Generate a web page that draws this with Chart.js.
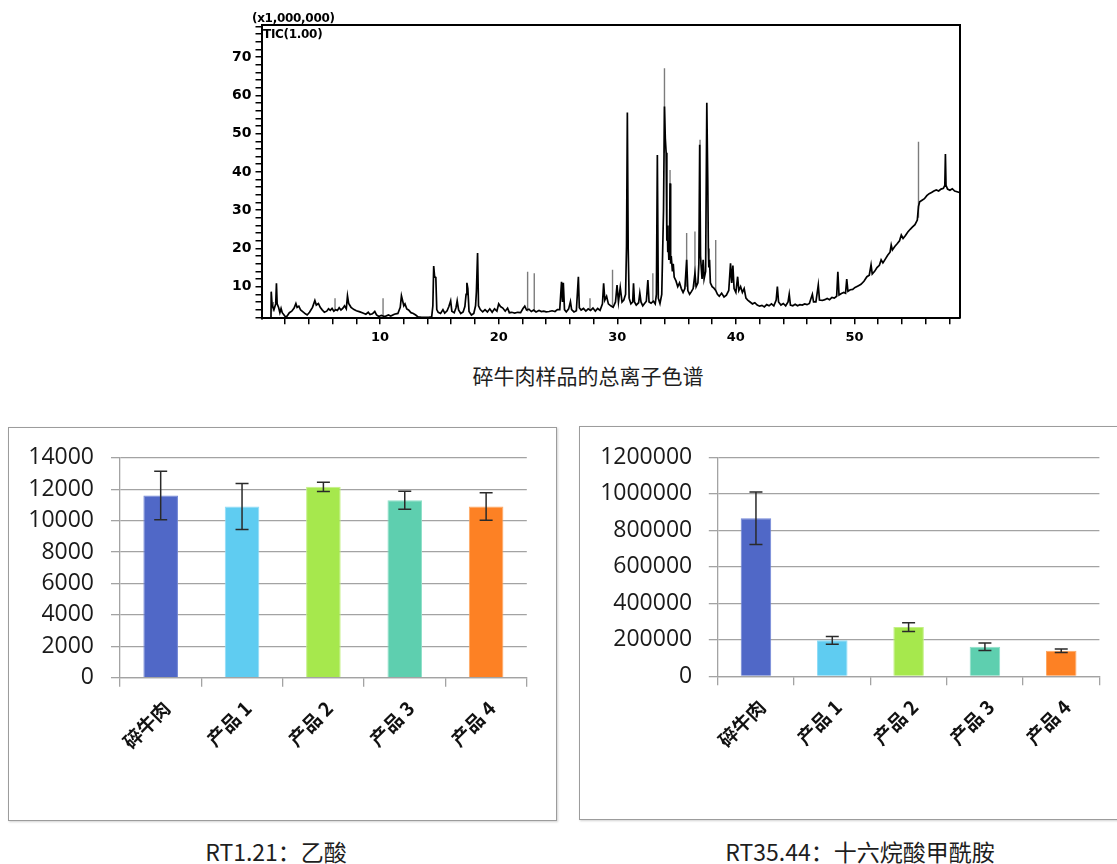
<!DOCTYPE html>
<html>
<head>
<meta charset="utf-8">
<script src="https://cdn.jsdelivr.net/npm/chart.js@4.4.0/dist/chart.umd.min.js"></script>
<style>
  html, body { margin:0; padding:0; background:#fff; }
  body { width:1117px; height:864px; overflow:hidden; position:relative; font-family:'Noto Sans CJK SC', sans-serif; }
  canvas { position:absolute; }
  .frame { position:absolute; border:1px solid #9c9c9c; box-shadow:1px 1px 2px rgba(0,0,0,0.18); background:transparent; box-sizing:border-box; }
  .caption { position:absolute; text-align:center; color:#1e1e1e; white-space:nowrap; }
  .ticlab { position:absolute; font-family:'DejaVu Sans', sans-serif; font-weight:bold; font-size:12px; line-height:14px; color:#000; white-space:nowrap; letter-spacing:-0.3px; }
</style>
</head>
<body>

<div class="frame" style="left:8px; top:427px; width:549px; height:394px;"></div>
<div class="frame" style="left:579px; top:426px; width:545px; height:394px;"></div>

<canvas id="tic" width="790" height="360" style="left:200px; top:0px;"></canvas>
<canvas id="acid" width="548" height="393" style="left:8px; top:427px;"></canvas>
<canvas id="amide" width="537" height="392" style="left:580px; top:427px;"></canvas>

<div class="ticlab" style="left:252px; top:11px;">(x1,000,000)</div>
<div class="ticlab" style="left:263px; top:27px;">TIC(1.00)</div>

<div class="caption" style="left:388px; top:360px; width:400px; font-size:21px; line-height:30px;">碎牛肉样品的总离子色谱</div>
<div class="caption" style="left:76px; top:836px; width:400px; font-size:23px; line-height:30px;">RT1.21：乙酸</div>
<div class="caption" style="left:660px; top:836px; width:400px; font-size:23px; line-height:30px;">RT35.44：十六烷酸甲酰胺</div>

<script>
// ---------------- DATA ----------------
// Total ion chromatogram: [retention time (min), intensity (x1,000,000)]
const ticSeg1 = [[0.80,2.0],[0.82,8.7],[0.90,5.0],[1.05,4.0],[1.20,5.5],[1.26,10.9],[1.32,5.5],[1.45,4.5],[1.55,3.2],[1.65,4.3],[1.75,3.2],[1.90,2.6],[2.05,2.0],[2.15,2.3],[2.35,3.2],[2.55,3.6],[2.75,4.4],[2.90,5.6],[3.00,4.6],[3.15,4.9],[3.30,3.9],[3.50,3.4],[3.70,2.9],[3.85,2.6],[4.05,3.3],[4.30,4.6],[4.50,6.4],[4.62,5.2],[4.80,5.6],[4.95,4.6],[5.10,4.0],[5.30,3.3],[5.50,3.6],[5.65,4.2],[5.80,3.8],[5.95,4.3],[6.10,3.6],[6.25,4.0],[6.40,3.8],[6.55,4.5],[6.70,3.9],[6.85,4.3],[7.00,5.0],[7.15,4.2],[7.25,7.6],[7.35,5.6],[7.55,4.6],[7.80,4.0],[8.00,3.7],[8.30,3.4],[8.55,3.1],[8.80,2.8],[9.00,3.3],[9.15,2.7],[9.35,2.9],[9.55,3.5],[9.70,2.6],[9.90,2.2],[10.10,2.5],[10.40,2.2],[10.70,2.6],[10.90,2.3],[11.20,2.8],[11.50,3.0],[11.70,4.6],[11.80,7.6],[11.90,6.3],[12.00,5.0],[12.10,5.5],[12.25,4.2],[12.40,3.9],[12.60,3.2],[12.80,3.0],[13.00,2.6],[13.20,2.1],[13.50,2.0],[13.80,2.0],[14.10,2.0],[14.35,2.1],[14.45,5.0],[14.52,15.4],[14.60,12.6],[14.70,12.4],[14.78,4.0],[14.90,3.3]];
const ticSeg2 = [[15.10,3.0],[15.30,4.0],[15.45,3.1],[15.65,3.7],[15.80,4.8],[15.95,6.3],[16.05,3.6],[16.25,3.2],[16.40,4.5],[16.50,6.3],[16.62,3.9],[16.80,3.0],[17.00,3.4],[17.15,4.8],[17.25,8.0],[17.32,11.0],[17.40,9.5],[17.50,3.5],[17.70,2.6],[17.90,3.0],[18.05,5.0],[18.12,8.6],[18.22,18.8],[18.30,5.0],[18.45,4.0],[18.65,3.4],[18.85,4.0],[19.05,3.4],[19.25,4.2],[19.45,3.3],[19.65,4.2],[19.85,3.6],[20.00,5.5],[20.15,4.8],[20.35,4.4],[20.55,3.6],[20.75,4.4],[20.90,3.2],[21.10,3.3],[21.35,3.1],[21.60,3.3],[21.85,3.2],[22.05,4.3],[22.20,4.9],[22.35,3.9],[22.55,4.1],[22.75,3.5],[22.95,3.9],[23.15,3.4],[23.40,3.8],[23.60,3.5],[23.80,3.6],[24.00,3.4],[24.25,3.5],[24.50,3.7],[24.75,3.5],[24.95,4.0],[25.15,4.0],[25.30,11.3],[25.38,6.0],[25.45,11.0],[25.55,4.0],[25.70,3.4],[25.90,4.2],[26.05,6.1],[26.15,4.0],[26.35,3.4],[26.55,3.7],[26.72,12.6],[26.80,4.5],[26.95,3.9],[27.15,4.3],[27.35,3.6],[27.55,4.2],[27.75,3.8],[27.95,4.4],[28.15,3.6],[28.35,4.3],[28.55,3.8],[28.75,5.5],[28.85,10.9],[28.95,6.5],[29.10,7.5],[29.25,5.5],[29.45,5.0],[29.65,4.6],[29.85,6.0]];
const ticSeg3 = [[29.98,10.4],[30.10,6.0],[30.25,9.8],[30.40,6.0],[30.55,6.5],[30.70,8.0],[30.78,20.5],[30.85,55.5],[30.92,20.0],[31.00,7.0],[31.15,5.5],[31.30,6.0],[31.37,10.9],[31.45,6.0],[31.60,5.2],[31.80,5.8],[31.90,8.3],[32.00,6.0],[32.15,5.0],[32.30,5.6],[32.45,6.2],[32.58,11.7],[32.68,6.0],[32.85,5.7],[33.05,6.2],[33.20,5.5],[33.30,8.0],[33.38,44.4],[33.46,7.0],[33.60,5.6],[33.75,8.0],[33.90,30.0],[33.98,57.1],[34.05,48.8],[34.12,45.0],[34.18,22.0],[34.22,26.0],[34.26,19.0],[34.30,21.5],[34.35,17.0],[34.40,20.0],[34.45,37.0],[34.50,16.0],[34.55,18.0],[34.65,14.0],[34.72,16.0],[34.80,12.5],[34.95,11.5],[35.10,10.0],[35.25,11.0],[35.40,9.5],[35.55,8.5],[35.70,9.5],[35.85,17.0],[35.95,9.0],[36.10,8.0],[36.25,8.7],[36.40,9.5],[36.55,13.5],[36.65,10.0],[36.80,11.0],[36.88,16.0],[36.95,47.1],[37.02,18.0],[37.08,15.0],[37.15,12.0],[37.24,17.0],[37.32,12.0],[37.45,14.0],[37.55,58.1],[37.63,37.9],[37.68,20.0],[37.72,15.0],[37.78,17.0],[37.85,11.0],[38.00,10.0],[38.15,9.6],[38.30,9.0],[38.45,8.0],[38.60,7.5],[38.80,8.3],[39.00,7.3],[39.20,7.8],[39.40,9.0],[39.55,16.1],[39.65,11.0],[39.75,15.5],[39.85,9.5]];
const ticSeg4 = [[40.00,8.5],[40.15,12.6],[40.25,9.0],[40.40,10.0],[40.55,8.5],[40.70,9.5],[40.85,7.0],[41.00,6.5],[41.20,6.0],[41.40,5.5],[41.60,5.8],[41.80,5.2],[42.00,4.9],[42.20,5.1],[42.40,4.7],[42.60,5.3],[42.80,5.0],[43.00,5.5],[43.20,5.0],[43.40,6.5],[43.50,10.0],[43.60,6.0],[43.80,5.2],[44.00,5.6],[44.20,5.0],[44.40,6.0],[44.50,8.0],[44.60,5.2],[44.80,5.0],[45.00,5.4],[45.20,5.0],[45.40,5.3],[45.60,5.2],[45.80,5.5],[46.00,5.3],[46.20,5.6],[46.45,8.0],[46.55,6.0],[46.75,6.0],[46.95,10.4],[47.05,6.5],[47.30,6.4],[47.50,6.6],[47.70,6.9],[47.90,6.6],[48.10,7.2],[48.30,7.0],[48.50,7.5],[48.60,13.9],[48.70,7.8],[48.90,8.2],[49.10,8.5],[49.25,8.3],[49.35,12.0],[49.45,8.8],[49.65,9.2],[49.85,9.3],[50.05,9.8],[50.30,10.2],[50.55,10.6],[50.80,11.4],[51.05,12.6],[51.25,13.0],[51.40,15.7],[51.50,13.3],[51.70,14.0],[51.90,15.0],[52.10,15.6],[52.25,17.0],[52.40,16.2],[52.60,17.2],[52.80,18.2],[53.00,19.0],[53.10,20.9],[53.20,19.6],[53.40,20.5],[53.60,21.2],[53.80,22.0],[53.95,23.5],[54.10,22.6],[54.30,23.4],[54.50,24.3],[54.70,25.0],[54.90,25.6],[55.10,26.2],[55.30,27.4],[55.40,31.0],[55.50,32.2],[55.70,32.6],[55.90,33.0],[56.10,33.8],[56.30,34.3],[56.50,34.6],[56.70,35.0],[56.90,35.3],[57.10,35.0],[57.30,35.5],[57.50,35.7],[57.62,36.5],[57.67,44.7],[57.72,36.5],[57.85,35.5],[58.05,35.2],[58.25,35.6],[58.45,35.0],[58.65,34.8],[58.85,34.6]];
// Grey (partially drawn) spikes: retention time, spike top, spike base
const greySpikeRT   = [1.00, 6.20, 10.25, 22.44, 23.00, 27.70, 29.60, 33.00, 33.98, 34.45, 35.85, 36.55, 36.98, 38.30, 55.40];
const greySpikeTop  = [6.0,  7.0,  7.0,   13.9,  13.5,  7.0,   14.4,  13.5,  67.1,  40.5,  24.0,  24.4,  48.4,  22.2,  47.9];
const greySpikeBase = [3.5,  3.8,  2.5,   3.5,   3.5,   3.8,   5.0,   6.0,   45.0,  30.0,  10.0,  10.0,  20.0,  9.0,   28.0];
const ticXTicks = [2,4,6,8,10,12,14,16,18,20,22,24,26,28,30,32,34,36,38,40,42,44,46,48,50,52,54,56,58];
const ticYTicks = [2,4,6,8,10,12,14,16,18,20,22,24,26,28,30,32,34,36,38,40,42,44,46,48,50,52,54,56,58,60,62,64,66,68,70,72,74,76,78];

// Bar charts
const categories = ['碎牛肉', '产品 1', '产品 2', '产品 3', '产品 4'];
const aceticAcid    = [11600, 10900, 12150, 11300, 10900];      // RT1.21 乙酸
const aceticAcidErr = [1550, 1460, 300, 570, 870];
const amide    = [866000, 197000, 270000, 162000, 140000];      // RT35.44 十六烷酸甲酰胺
const amideErr = [144000, 21000, 24000, 21000, 9000];
const barColors  = ['#5068C7', '#5FCCF1', '#A6E84D', '#5ECFAF', '#FD8124'];
const barBorders = ['#7186d6', '#8fdcf6', '#c3f085', '#8edfc8', '#fda863'];

// ---------------- PLUGINS ----------------
const framePlugin = {
  id: 'frame',
  afterDraw(chart) {
    const a = chart.chartArea, c = chart.ctx;
    c.save();
    c.strokeStyle = '#000'; c.lineWidth = 2;
    c.beginPath();
    c.moveTo(a.left, a.top); c.lineTo(a.right, a.top); c.lineTo(a.right, a.bottom);
    c.stroke();
    c.restore();
  }
};
const errorBarPlugin = {
  id: 'errbars',
  afterDatasetsDraw(chart, args, opts) {
    const errs = opts.errors; if (!errs) return;
    const meta = chart.getDatasetMeta(0);
    const ys = chart.scales.y, c = chart.ctx;
    const vals = chart.data.datasets[0].data;
    c.save();
    c.strokeStyle = '#2a2a2a'; c.lineWidth = 1.5;
    meta.data.forEach((bar, i) => {
      const top = ys.getPixelForValue(vals[i] + errs[i]);
      const bot = ys.getPixelForValue(vals[i] - errs[i]);
      const w = 6.5;
      c.beginPath();
      c.moveTo(bar.x, top); c.lineTo(bar.x, bot);
      c.moveTo(bar.x - w, top); c.lineTo(bar.x + w, top);
      c.moveTo(bar.x - w, bot); c.lineTo(bar.x + w, bot);
      c.stroke();
    });
    c.restore();
  }
};

Chart.defaults.font.family = "'Open Sans', sans-serif";
Chart.defaults.animation = false;

// ---------------- CHROMATOGRAM ----------------
const ticData = ticSeg1.concat(ticSeg2, ticSeg3, ticSeg4).map(p => ({x: p[0], y: p[1]}));
const greyData = [];
greySpikeRT.forEach((t, i) => {
  greyData.push({x: t, y: greySpikeBase[i]}, {x: t, y: greySpikeTop[i]}, {x: t, y: null});
});

new Chart(document.getElementById('tic'), {
  type: 'line',
  data: {
    datasets: [
      {data: greyData, borderColor: '#7c7c7c', borderWidth: 1.4, pointRadius: 0, spanGaps: false, order: 2},
      {data: ticData, borderColor: '#000', borderWidth: 1.7, pointRadius: 0, tension: 0, order: 1}
    ]
  },
  options: {
    responsive: false, devicePixelRatio: 1,
    layout: {padding: {top: 25, right: 30, left: 0, bottom: 0}},
    plugins: {legend: {display: false}, tooltip: {enabled: false}},
    scales: {
      x: {
        type: 'linear', min: 0, max: 58.9,
        afterBuildTicks: s => { s.ticks = ticXTicks.map(v => ({value: v})); },
        afterFit: s => { s.height = 41.7; },
        grid: {drawOnChartArea: false, drawTicks: true, tickLength: 6, color: '#000', lineWidth: 1.5},
        border: {color: '#000', width: 2},
        ticks: {autoSkip: false, maxRotation: 0, padding: 6, color: '#000',
                font: {family: "'DejaVu Sans', sans-serif", size: 13, weight: 'bold'},
                callback: v => (v % 10 === 0 ? String(v) : '')}
      },
      y: {
        type: 'linear', min: 1.73, max: 78.4,
        afterBuildTicks: s => { s.ticks = ticYTicks.map(v => ({value: v})); },
        afterFit: s => { s.width = 61.5; },
        grid: {drawOnChartArea: false, drawTicks: true, tickLength: 6, color: '#000', lineWidth: 1.5},
        border: {color: '#000', width: 2},
        ticks: {autoSkip: false, padding: 4, color: '#000',
                font: {family: "'DejaVu Sans', sans-serif", size: 14, weight: 'bold'},
                callback: v => (v % 10 === 0 ? String(v) : '')}
      }
    }
  },
  plugins: [framePlugin]
});

// ---------------- BAR CHARTS ----------------
function barChart(id, values, errors, ymax, step, yWidth, xHeight, padTop, padRight, barPct, tickPad) {
  return new Chart(document.getElementById(id), {
    type: 'bar',
    data: {labels: categories, datasets: [{data: values, backgroundColor: barColors, borderColor: barBorders,
           borderWidth: 1, categoryPercentage: 1, barPercentage: barPct}]},
    options: {
      responsive: false, devicePixelRatio: 1,
      layout: {padding: {top: padTop, right: padRight, left: 0, bottom: 0}},
      plugins: {legend: {display: false}, tooltip: {enabled: false}, errbars: {errors: errors}},
      scales: {
        x: {
          afterFit: s => { s.height = xHeight; },
          grid: {display: true, drawOnChartArea: false, drawTicks: true, tickLength: 9, offset: true, color: '#a3a3a3', lineWidth: 1.3},
          border: {color: '#a3a3a3', width: 1.3},
          ticks: {autoSkip: false, minRotation: 45, maxRotation: 45, padding: 10, labelOffset: 6, color: '#111',
                  font: {family: "'Noto Sans CJK SC', sans-serif", size: 19, weight: 'bold'}}
        },
        y: {
          min: 0, max: ymax,
          afterFit: s => { s.width = yWidth; },
          grid: {color: '#a3a3a3', lineWidth: 1.3, drawTicks: true, tickLength: 9},
          border: {color: '#a3a3a3', width: 1.3},
          ticks: {stepSize: step, padding: tickPad, color: '#1a1a1a',
                  font: {family: "'Open Sans', sans-serif", size: 23},
                  callback: v => String(v)}
        }
      }
    },
    plugins: [errorBarPlugin]
  });
}

barChart('acid', aceticAcid, aceticAcidErr, 14000, 2000, 112, 142.3, 29.7, 29.2, 0.425, 17);
barChart('amide', amide, amideErr, 1200000, 200000, 137.8, 142.7, 28, 17.6, 0.40, 16.6);
</script>
</body>
</html>
